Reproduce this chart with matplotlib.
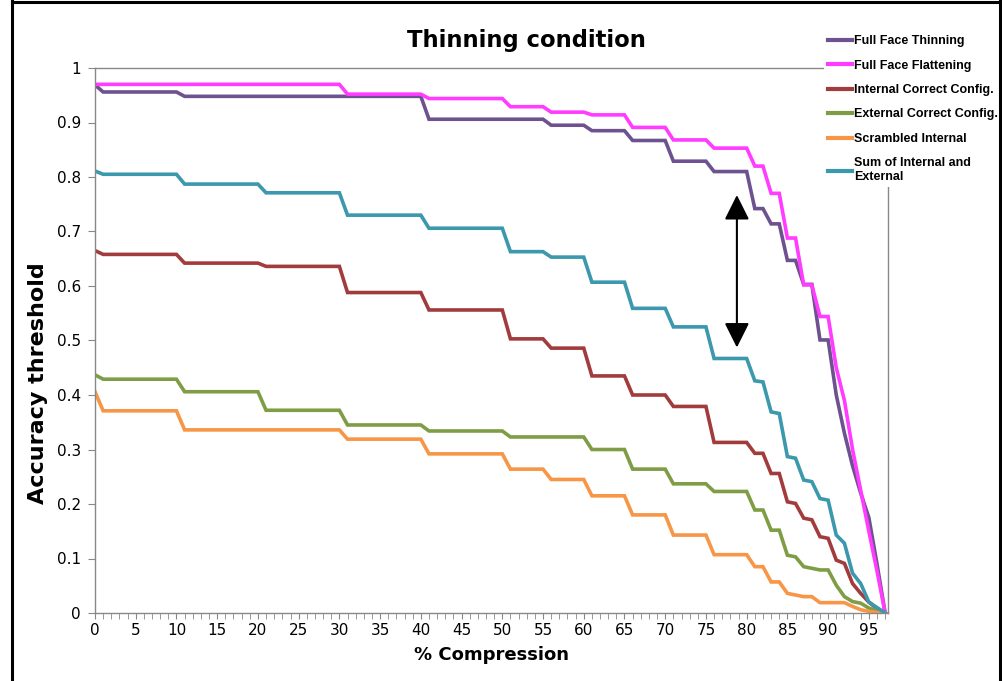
import matplotlib.pyplot as plt
import matplotlib.ticker as ticker
from matplotlib.lines import Line2D
import numpy as np

# step data: (value, number of consecutive points), x = 0..97
thin_vals = [0.969, 0.956, 0.948, 0.906, 0.895, 0.885, 0.867, 0.829, 0.810, 0.742, 0.714,
             0.647, 0.603, 0.501, 0.40, 0.33, 0.27, 0.22, 0.175, 0.09, 0.0]
thin_reps = [1, 10, 30, 15, 5, 5, 5, 5, 5, 2, 2, 2, 2, 2, 1, 1, 1, 1, 1, 1, 1]

flat_vals = [0.970, 0.952, 0.944, 0.929, 0.919, 0.914, 0.891, 0.868, 0.853, 0.820, 0.770,
             0.688, 0.602, 0.544, 0.45, 0.39, 0.30, 0.225, 0.15, 0.077, 0.0]
flat_reps = [31, 10, 10, 5, 5, 5, 5, 5, 5, 2, 2, 2, 2, 2, 1, 1, 1, 1, 1, 1, 1]

int_vals = [0.665, 0.658, 0.642, 0.636, 0.588, 0.556, 0.503, 0.486, 0.435, 0.400, 0.379,
            0.313, 0.293, 0.256, 0.204, 0.201, 0.174, 0.171, 0.140, 0.137, 0.097, 0.091,
            0.054, 0.036, 0.020, 0.008, 0.0]
int_reps = [1, 10, 10, 10, 10, 10, 5, 5, 5, 5, 5, 5, 2, 2, 1, 1, 1, 1, 1, 1, 1, 1, 1, 1, 1, 1, 1]

ext_vals = [0.437, 0.429, 0.406, 0.372, 0.345, 0.334, 0.323, 0.300, 0.264, 0.237, 0.223,
            0.189, 0.152, 0.106, 0.103, 0.085, 0.082, 0.079, 0.051, 0.030, 0.021, 0.018,
            0.009, 0.004, 0.0]
ext_reps = [1, 10, 10, 10, 10, 10, 10, 5, 5, 5, 5, 2, 2, 1, 1, 1, 1, 2, 1, 1, 1, 1, 1, 1, 1]

scr_vals = [0.406, 0.371, 0.336, 0.319, 0.292, 0.264, 0.245, 0.215, 0.180, 0.143, 0.107,
            0.085, 0.057, 0.036, 0.033, 0.030, 0.019, 0.012, 0.006, 0.003, 0.001, 0.0]
scr_reps = [1, 10, 20, 10, 10, 5, 5, 5, 5, 5, 5, 2, 2, 1, 1, 2, 4, 1, 1, 1, 1, 1]

sum_vals = [0.811, 0.805, 0.787, 0.771, 0.730, 0.706, 0.663, 0.653, 0.607, 0.559, 0.525,
            0.467, 0.426, 0.424, 0.369, 0.366, 0.287, 0.284, 0.244, 0.241, 0.210, 0.207,
            0.143, 0.128, 0.073, 0.054, 0.020, 0.010, 0.0]
sum_reps = [1, 10, 10, 10, 10, 10, 5, 5, 5, 5, 5, 5, 1, 1, 1, 1, 1, 1, 1, 1, 1, 1,
            1, 1, 1, 1, 1, 1, 1]

labels = ['Full Face Thinning', 'Full Face Flattening', 'Internal Correct Config.',
          'External Correct Config.', 'Scrambled Internal', 'Sum of Internal and\nExternal']
colors = ['#6e5290', '#ff3cff', '#a23c3c', '#7f9d45', '#f79646', '#3b98ad']
series = [(thin_vals, thin_reps), (flat_vals, flat_reps), (int_vals, int_reps),
          (ext_vals, ext_reps), (scr_vals, scr_reps), (sum_vals, sum_reps)]

W, H = 1003, 681
fig = plt.figure(figsize=(W / 100, H / 100), dpi=100)
ax = fig.add_axes([95 / W, 1 - 613 / H, (888 - 95) / W, (613 - 68) / H])

for (vals, reps), lab, col in zip(series, labels, colors):
    y = np.repeat(vals, reps)
    x = np.arange(len(y))
    ax.plot(x, y, color=col, lw=2.6, label=lab, solid_joinstyle='miter')

ax.set_xlim(0, 97.35)
ax.set_ylim(0, 1)
ax.xaxis.set_major_locator(ticker.MultipleLocator(5))
ax.xaxis.set_minor_locator(ticker.MultipleLocator(1))
ax.yaxis.set_major_locator(ticker.MultipleLocator(0.1))
ax.yaxis.set_major_formatter(ticker.FuncFormatter(lambda v, p: '%g' % round(v, 1)))
for s in ax.spines.values():
    s.set_color('#888888')
    s.set_linewidth(1.0)
ax.tick_params(axis='both', which='both', color='#888888', direction='out', labelsize=11)
ax.tick_params(axis='x', which='both', length=4, pad=3)
ax.tick_params(axis='y', length=5, pad=5)

ax.set_xlabel('% Compression', fontsize=13, fontweight='bold', labelpad=6)
fig.text(38 / W, 1 - 383 / H, 'Accuracy threshold', fontsize=16, fontweight='bold',
         rotation=90, ha='center', va='center')
fig.text(526 / W, 1 - 40 / H, 'Thinning condition', fontsize=16.3, fontweight='bold',
         ha='center', va='center')

# double-headed arrow between the full-face and sum curves
ax.annotate('', xy=(78.8, 0.482), xytext=(78.8, 0.772),
            arrowprops=dict(arrowstyle='<|-|>', color='black', lw=1.5, mutation_scale=38))

leg = ax.legend(loc='upper left', bbox_to_anchor=(818 / W, 1 - 25 / H),
                bbox_transform=fig.transFigure, frameon=True, fancybox=False,
                facecolor='white', edgecolor='none', framealpha=1,
                handlelength=1.9, handletextpad=0.2, labelspacing=1.0,
                borderpad=0.3, prop={'family': 'Liberation Sans', 'weight': 'bold', 'size': 9})
for h in leg.get_lines():
    h.set_linewidth(3)

# outer black frame
for xs, ys in [([12, 12], [0, H]), ([12, 1000], [2, 2]), ([1000, 1000], [0, H])]:
    fig.add_artist(Line2D([v / W for v in xs], [1 - v / H for v in ys],
                          color='black', lw=2.2, transform=fig.transFigure))

fig.savefig('out.png', dpi=100)
